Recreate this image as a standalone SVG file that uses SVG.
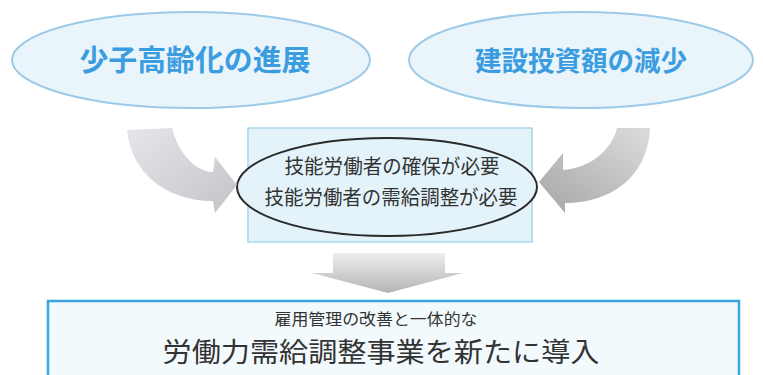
<svg xmlns="http://www.w3.org/2000/svg" width="763" height="375" viewBox="0 0 763 375">
<defs>
<linearGradient id="gL" x1="0" y1="0" x2="1" y2="1">
<stop offset="0" stop-color="#e6e6ea"/>
<stop offset="1" stop-color="#c4c4c8"/>
</linearGradient>
<linearGradient id="gR" x1="1" y1="0" x2="0" y2="1">
<stop offset="0" stop-color="#dcdcdc"/>
<stop offset="1" stop-color="#a6a6a6"/>
</linearGradient>
<linearGradient id="gD" x1="0" y1="0" x2="0" y2="1">
<stop offset="0" stop-color="#eeeeee"/>
<stop offset="1" stop-color="#b4b4b4"/>
</linearGradient>
<style>
.topE{fill:#eaf4fb;stroke:#9ccae8;stroke-width:2}
.topT{font-family:"Noto Sans CJK JP","Noto Sans",sans-serif;font-weight:bold;fill:#3b9de0;text-anchor:middle}
.mid{font-family:"Noto Sans CJK JP","Noto Sans",sans-serif;fill:#333;text-anchor:middle;font-size:20px}
.bot{font-family:"Noto Sans CJK JP","Noto Sans",sans-serif;fill:#333;text-anchor:middle}
</style>
</defs>
<rect width="763" height="375" fill="#ffffff"/>
<g id="node-shoushi">
<ellipse class="topE" cx="191" cy="60" rx="179" ry="48"/>
<text class="topT" x="195" y="71" font-size="29" textLength="231" lengthAdjust="spacingAndGlyphs">少子高齢化の進展</text>
</g>
<g id="node-kensetsu">
<ellipse class="topE" cx="581" cy="60" rx="172" ry="48"/>
<text class="topT" x="581" y="71" font-size="27" textLength="212" lengthAdjust="spacingAndGlyphs">建設投資額の減少</text>
</g>
<g id="node-center">
<rect x="248" y="128" width="284" height="114" fill="#e4f3fa" stroke="#a9d6ea" stroke-width="1.5"/>
<ellipse cx="387" cy="187" rx="150" ry="49" fill="#e4f3fa" stroke="#2a2a2a" stroke-width="2"/>
<text class="mid" x="392" y="174" textLength="215" lengthAdjust="spacingAndGlyphs">技能労働者の確保が必要</text>
<text class="mid" x="391" y="205" textLength="253" lengthAdjust="spacingAndGlyphs">技能労働者の需給調整が必要</text>
</g>
<g id="node-bottom">
<rect x="48" y="301" width="691" height="90" fill="#f2fafd" stroke="#3aa6e0" stroke-width="2.5"/>
<text class="bot" x="376" y="325" font-size="16" textLength="203" lengthAdjust="spacingAndGlyphs">雇用管理の改善と一体的な</text>
<text class="bot" x="381" y="362" font-size="27" textLength="437" lengthAdjust="spacingAndGlyphs">労働力需給調整事業を新たに導入</text>
</g>
<g id="connectors">
<path d="M127,130 C131,172 165,201 213,201 L215,213 L237,185 L215,157 L213,172 C195,172 178,152 172,128 Z" fill="url(#gL)"/>
<path d="M650,128 C648,176 612,203 565,203 L565,213 L539,182 L563,153 L563,170 C590,168 612,150 617,128 Z" fill="url(#gR)"/>
<path d="M333,253 L445,253 L445,273 L463,273 L388,293 L312,273 L333,273 Z" fill="url(#gD)"/>
</g>
</svg>
